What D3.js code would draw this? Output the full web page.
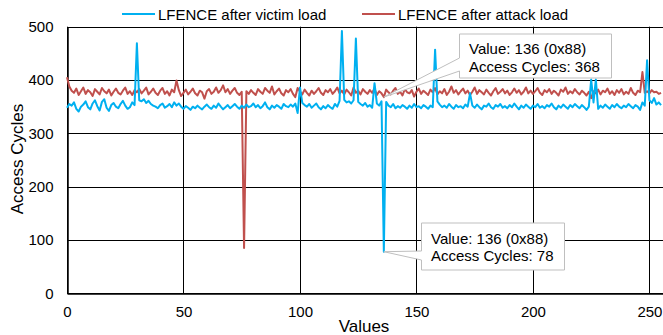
<!DOCTYPE html>
<html>
<head>
<meta charset="utf-8">
<script src="https://cdn.jsdelivr.net/npm/d3@7"></script>
<style>
  body { margin: 0; background: #fff; }
  text { font-family: "Liberation Sans", Arial, sans-serif; fill: #000; }
</style>
</head>
<body>
<div id="chart"></div>
<script>
// series values, one per probed value 0..255
const victim = [
  348, 355, 352, 358, 346, 341, 350, 354, 360, 349,
  345, 356, 362, 351, 343, 359, 364, 348, 342, 353,
  357, 350, 347, 355, 361, 352, 346, 349, 358, 353,
  469, 362, 360, 364, 357, 361, 355, 352, 350, 347,
  353, 356, 348, 351, 355, 349, 358, 352, 356, 350,
  346, 351, 348, 344, 350, 347, 352, 348, 345, 350,
  354, 349, 346, 352, 348, 356, 350, 345, 349, 353,
  347, 351, 355, 350, 346, 352, 348, 354, 349, 351,
  356, 349, 353, 347, 351, 358, 349, 345, 352, 348,
  353, 350, 346, 355, 351, 349, 354, 350, 356, 338,
  386, 357, 353, 350, 355, 348, 352, 356, 349, 345,
  351, 347, 353, 349, 346, 355, 350, 361, 492, 363,
  358, 360, 356, 362, 478, 359, 355, 352, 357, 350,
  353, 348, 394, 356, 352, 360, 78, 359, 352, 349,
  355, 347, 351, 348, 353, 350, 346, 352, 348, 355,
  349, 351, 347, 353, 350, 346, 352, 349, 457, 360,
  354, 349, 352, 348, 355, 350, 346, 353, 349, 351,
  347, 354, 350, 375, 352, 348, 354, 349, 345, 352,
  350, 356, 349, 346, 353, 350, 355, 348, 351, 347,
  353, 349, 356, 350, 345, 352, 348, 354, 350, 346,
  352, 349, 355, 348, 351, 347, 353, 350, 356, 349,
  345, 352, 348, 354, 350, 346, 353, 349, 355, 351,
  347, 353, 349, 344, 350, 401, 358, 401, 346, 352,
  348, 354, 350, 346, 353, 349, 355, 350, 347, 352,
  349, 355, 351, 347, 353, 350, 344, 358, 352, 437,
  362, 357, 366, 354, 358, 353
];
const attack = [
  405, 388, 380, 376, 384, 372, 379, 386, 374, 381,
  377, 370, 383, 378, 373, 385, 379, 375, 382, 371,
  378, 384, 376, 373, 380, 386, 374, 379, 372, 381,
  377, 383, 375, 380, 386, 373, 378, 384, 376, 372,
  380, 385, 374, 379, 371, 382, 377, 399, 381, 370,
  376, 382, 373, 378, 384, 375, 371, 380, 377, 365,
  379, 383, 374, 378, 386, 376, 381, 390, 377, 383,
  374, 380, 385, 376, 372, 378, 85, 379, 374, 381,
  376, 372, 383, 378, 374, 385, 380, 376, 388, 373,
  379, 384, 375, 371, 381, 377, 383, 374, 368, 385,
  378, 373, 382, 376, 371, 380, 374, 379, 385, 376,
  372, 381, 377, 383, 374, 379, 386, 375, 380, 373,
  382, 377, 371, 386, 376, 380, 373, 383, 378, 374,
  381, 376, 384, 372, 379, 375, 368, 382, 377, 373,
  380, 385, 374, 378, 371, 383, 377, 375, 381, 369,
  378, 384, 374, 380, 376, 372, 382, 377, 385, 373,
  379, 375, 383, 372, 378, 388, 376, 381, 373, 379,
  384, 375, 380, 372, 378, 386, 374, 381, 377, 373,
  382, 376, 371, 379, 385, 374, 378, 383, 375, 380,
  372, 377, 384, 376, 381, 373, 378, 386, 375, 380,
  374, 379, 385, 376, 372, 381, 377, 383, 374, 380,
  376, 371, 382, 378, 386, 374, 379, 375, 383, 377,
  373, 380, 376, 371, 378, 366, 379, 375, 382, 373,
  380, 377, 384, 374, 379, 372, 381, 376, 383, 373,
  378, 374, 385, 376, 372, 380, 377, 415, 376, 379,
  375, 381, 377, 378, 374, 376
];
const seriesNames = ["LFENCE after victim load", "LFENCE after attack load"];
const seriesColors = ["#00b0f0", "#c0504d"];
const xTicks = [0, 50, 100, 150, 200, 250];
const yTicks = [0, 100, 200, 300, 400, 500];
// data labels on value 0x88
const callouts = [
  { i: 136, series: attack, lines: ["Value: 136 (0x88)", "Access Cycles: 368"] },
  { i: 136, series: victim, lines: ["Value: 136 (0x88)", "Access Cycles: 78"] }
];

const W = 663, H = 335;
const svg = d3.select("#chart").append("svg").attr("width", W).attr("height", H);

const x = d3.scaleLinear().domain([0, 256]).range([67, 663.4]);
const y = d3.scaleLinear().domain([0, 500]).range([293.3, 26.7]);

// grid
const grid = svg.append("g").attr("stroke", "#000").attr("stroke-width", 1);
grid.selectAll(".gy").data(yTicks).enter().append("line")
  .attr("x1", x(0)).attr("x2", W)
  .attr("y1", d => Math.round(y(d)) + 0.5).attr("y2", d => Math.round(y(d)) + 0.5);
grid.selectAll(".gx").data(xTicks).enter().append("line")
  .attr("x1", d => Math.round(x(d)) + 0.5).attr("x2", d => Math.round(x(d)) + 0.5)
  .attr("y1", y(500)).attr("y2", y(0));

// axes
const xAxis = svg.append("g").attr("transform", "translate(0," + (Math.round(y(0)) + 0.5) + ")")
  .call(d3.axisBottom(x).tickValues(xTicks).tickSize(0).tickPadding(12.5));
const yAxis = svg.append("g").attr("transform", "translate(" + (Math.round(x(0)) + 0.5) + ",0)")
  .call(d3.axisLeft(y).tickValues(yTicks).tickSize(0).tickPadding(14));
[xAxis, yAxis].forEach(a => {
  a.select(".domain").attr("stroke", "#000").attr("stroke-width", 1.5);
  a.selectAll("text").attr("font-size", 15).attr("font-family", "Liberation Sans, Arial, sans-serif").attr("fill", "#000");
});

// lines (attack under victim)
const line = d3.line().x((d, i) => x(i)).y(d => y(d));
[attack, victim].forEach(s => {
  svg.append("path").datum(s)
    .attr("fill", "none")
    .attr("stroke", s === victim ? seriesColors[0] : seriesColors[1])
    .attr("stroke-width", 2)
    .attr("stroke-linejoin", "round")
    .attr("d", line);
});

// callouts
const boxes = [
  { bx: 459.5, by: 34, bw: 152, bh: 44, w1: 58, w2: 71, tx: 469, ty: 54 },
  { bx: 421.5, by: 223, bw: 143, bh: 47, w1: 251, w2: 260, tx: 431, ty: 243.5 }
];
callouts.forEach((c, k) => {
  const b = boxes[k];
  const px = x(c.i), py = y(c.series[c.i]);
  const p = "M" + b.bx + "," + b.by + " H" + (b.bx + b.bw) + " V" + (b.by + b.bh) + " H" + b.bx +
    " V" + b.w2 + " L" + px + "," + py + " L" + b.bx + "," + b.w1 + " Z";
  svg.append("path").attr("d", p).attr("fill", "#fff").attr("stroke", "#bfbfbf").attr("stroke-width", 1);
  c.lines.forEach((t, j) => {
    svg.append("text").attr("x", b.tx).attr("y", b.ty + j * 17.5).attr("font-size", 15).text(t);
  });
});

// legend
seriesNames.forEach((n, k) => {
  const lx = [122, 362][k];
  svg.append("line").attr("x1", lx).attr("x2", lx + 33).attr("y1", 14).attr("y2", 14)
    .attr("stroke", seriesColors[k]).attr("stroke-width", 2);
  svg.append("text").attr("x", lx + 36).attr("y", 20).attr("font-size", 15).text(n);
});

// axis titles
svg.append("text").attr("x", 364).attr("y", 332).attr("text-anchor", "middle").attr("font-size", 17).text("Values");
svg.append("text").attr("transform", "translate(23,159) rotate(-90)").attr("text-anchor", "middle")
  .attr("font-size", 17).text("Access Cycles");
</script>
</body>
</html>
